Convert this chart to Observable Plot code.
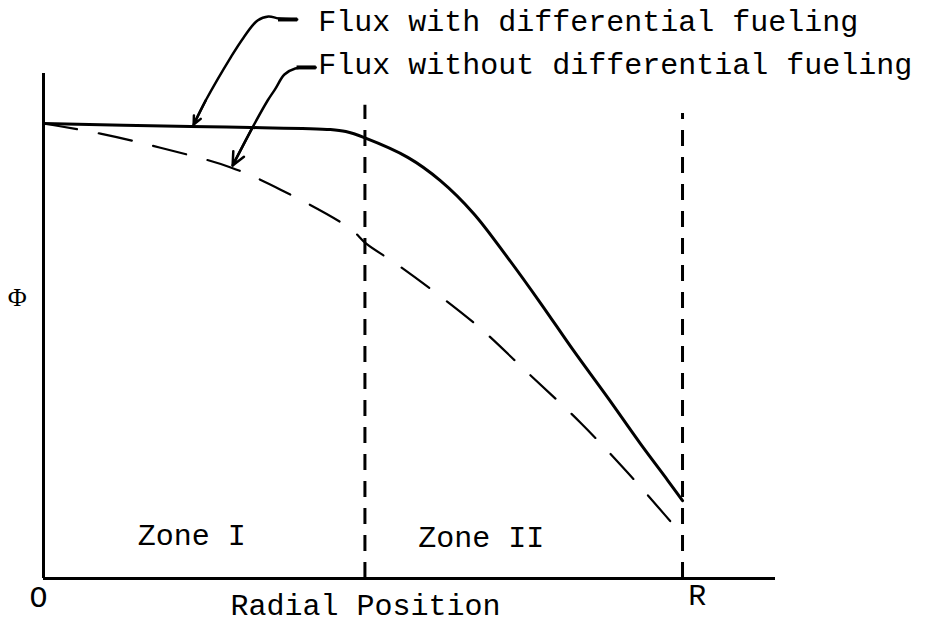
<!DOCTYPE html>
<html>
<head>
<meta charset="utf-8">
<script src="https://cdn.jsdelivr.net/npm/d3@7"></script>
<script src="https://cdn.jsdelivr.net/npm/@observablehq/plot@0.6"></script>
<style>
  html, body { margin: 0; padding: 0; background: #fff; }
  #chart { width: 930px; height: 627px; }
</style>
</head>
<body>
<div id="chart"></div>
<script>
// Radial position (0 = centre O, 1 = edge R) and relative flux Φ
const withX    = [0.0, 0.230, 0.324, 0.449, 0.473, 0.502, 0.570, 0.621, 0.673, 0.726, 0.778, 0.829, 0.883, 0.934, 0.977, 1.0];
const withY    = [0.901, 0.895, 0.893, 0.889, 0.885, 0.873, 0.834, 0.788, 0.723, 0.636, 0.545, 0.452, 0.358, 0.267, 0.194, 0.154];
const withoutX = [0.0, 0.089, 0.183, 0.293, 0.371, 0.480, 0.505, 0.551, 0.626, 0.684, 0.754, 0.840, 0.914, 0.973, 1.0];
const withoutY = [0.901, 0.881, 0.853, 0.814, 0.770, 0.693, 0.663, 0.624, 0.554, 0.495, 0.412, 0.309, 0.210, 0.125, 0.085];

// Zone boundaries
const zoneBoundaries = [0.503, 1.0];
const boundaryTops   = [0.937, 0.921];

// Labels
const seriesLabels = ["Flux with differential fueling", "Flux without differential fueling"];
const seriesLabelX = [0.430, 0.430];
const seriesLabelY = [1.103, 1.018];
const zoneLabels = ["Zone I", "Zone II"];
const zoneLabelX = [0.232, 0.685];
const zoneLabelY = [0.085, 0.081];
const tickLabels = ["O", "R"];
const tickLabelX = [-0.008, 1.023];
const tickLabelY = [-0.038, -0.034];
const xTitle = "Radial Position";
const yTitle = "\u03A6";

// Leader (arrow) paths from labels to curves
const leader1X = [0.397, 0.368, 0.352, 0.335, 0.313, 0.293, 0.254, 0.235];
const leader1Y = [1.107, 1.109, 1.113, 1.105, 1.071, 1.032, 0.947, 0.899];
const leader2X = [0.426, 0.394, 0.377, 0.363, 0.351, 0.327, 0.296];
const leader2Y = [1.012, 1.010, 0.998, 0.970, 0.947, 0.893, 0.818];

const withData = withX.map((x, i) => ({x, y: withY[i]}));
const withoutData = withoutX.map((x, i) => ({x, y: withoutY[i]}));
const boundaries = zoneBoundaries.map((x, i) => ({x, top: boundaryTops[i]}));
const leaders = [
  leader1X.map((x, i) => ({x, y: leader1Y[i], k: 0})),
  leader2X.map((x, i) => ({x, y: leader2Y[i], k: 1}))
];
const leaderPts = leaders.flat();
const heads = leaders.map(p => {
  const a = p[p.length - 2], b = p[p.length - 1];
  return {x1: a.x, y1: a.y, x2: b.x, y2: b.y};
});
const ticks = [leader1X, leader2X].map((xs, i) => ({x1: xs[0], x2: xs[0] - 0.03, y: [leader1Y, leader2Y][i][0]}));

const font = "Liberation Mono, Courier New, monospace";

const chart = Plot.plot({
  width: 930,
  height: 627,
  marginLeft: 43,
  marginRight: 155,
  marginTop: 73,
  marginBottom: 49,
  x: {domain: [0, 1.1455], axis: null},
  y: {domain: [0, 1], axis: null},
  style: {background: "#fff", color: "#000"},
  marks: [
    Plot.ruleY([0], {stroke: "#000", strokeWidth: 3}),
    Plot.ruleX([0], {stroke: "#000", strokeWidth: 3}),
    Plot.ruleX(boundaries, {x: "x", y1: 0, y2: "top", stroke: "#000", strokeWidth: 3, strokeDasharray: "16,11"}),
    Plot.line(withoutData, {x: "x", y: "y", curve: "catmull-rom", stroke: "#000", strokeWidth: 2.2, strokeDasharray: "34,22"}),
    Plot.line(withData, {x: "x", y: "y", curve: "catmull-rom", stroke: "#000", strokeWidth: 3}),
    Plot.line(leaderPts, {x: "x", y: "y", z: "k", curve: "catmull-rom", stroke: "#000", strokeWidth: 2.5}),
    Plot.link(ticks, {x1: "x1", x2: "x2", y1: "y", y2: "y", stroke: "#000", strokeWidth: 4}),
    Plot.arrow(heads, {x1: "x1", y1: "y1", x2: "x2", y2: "y2", stroke: "#000", strokeWidth: 2.5, headLength: 14, headAngle: 50}),
    Plot.text(seriesLabels, {x: (d, i) => seriesLabelX[i], y: (d, i) => seriesLabelY[i], text: d => d, textAnchor: "start", lineAnchor: "middle", fontFamily: font, fontSize: 30, fill: "#000"}),
    Plot.text(zoneLabels, {x: (d, i) => zoneLabelX[i], y: (d, i) => zoneLabelY[i], text: d => d, textAnchor: "middle", lineAnchor: "middle", fontFamily: font, fontSize: 30, fill: "#000"}),
    Plot.text(tickLabels, {x: (d, i) => tickLabelX[i], y: (d, i) => tickLabelY[i], text: d => d, textAnchor: "middle", lineAnchor: "middle", fontFamily: font, fontSize: 30, fill: "#000"}),
    Plot.text([xTitle], {x: 0.504, y: -0.053, text: d => d, textAnchor: "middle", lineAnchor: "middle", fontFamily: font, fontSize: 30, fill: "#000"}),
    Plot.text([yTitle], {x: -0.041, y: 0.556, text: d => d, textAnchor: "middle", lineAnchor: "middle", fontFamily: "Liberation Serif", fontSize: 26, fill: "#000"})
  ]
});
document.getElementById("chart").appendChild(chart);
</script>
</body>
</html>
